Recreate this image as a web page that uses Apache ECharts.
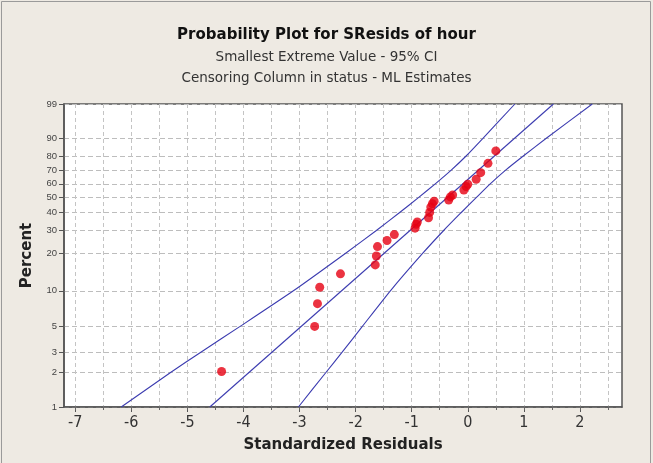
<!DOCTYPE html>
<html>
<head>
<meta charset="utf-8">
<script src="https://cdn.jsdelivr.net/npm/echarts@6/dist/echarts.min.js"></script>
<style>
html,body{margin:0;padding:0;background:#eeeae3;}
#chart{width:653px;height:463px;}
</style>
</head>
<body>
<div id="chart"></div>
<script>
// Observed standardized residuals and their plotting positions (percent)
const residuals = [-4.39,-2.73,-2.68,-2.64,-2.27,-1.65,-1.63,-1.61,-1.44,-1.31,-0.94,-0.92,-0.90,-0.70,-0.68,-0.66,-0.63,-0.60,-0.34,-0.31,-0.27,-0.07,-0.03,0.00,0.15,0.23,0.36,0.50];
const percents  = [2.04,5.0,7.8,10.7,13.8,16.3,19.2,22.7,25.3,28.0,31.2,33.3,34.5,37.0,40.2,43.6,45.8,47.5,48.4,50.5,51.9,55.5,58.0,59.7,63.4,68.3,75.0,83.2];

// Fitted line (percent, residual)
const fitPct = [1, 99];
const fitX   = [-4.60, 1.527];

// 95% confidence bands, read at each percent grid line
const ciPct   = [1, 2, 3, 5, 10, 20, 30, 40, 50, 60, 70, 80, 90, 99];
const ciUpper = [-6.18, -5.30, -4.76, -4.06, -3.11, -2.19, -1.63, -1.22, -0.88, -0.58, -0.30, -0.03, 0.27, 0.84];
const ciLower = [-3.02, -2.53, -2.24, -1.88, -1.38, -0.81, -0.43, -0.12, 0.15, 0.40, 0.67, 0.99, 1.40, 2.22];

// Axis ticks
const yTickPct  = [1, 2, 3, 5, 10, 20, 30, 40, 50, 60, 70, 80, 90, 99];
const xTicks    = [-7, -6, -5, -4, -3, -2, -1, 0, 1, 2];
const xHalfTicks = [-7, -6.5, -6, -5.5, -5, -4.5, -4, -3.5, -3, -2.5, -2, -1.5, -1, -0.5, 0, 0.5, 1, 1.5, 2, 2.5];

// smallest extreme value probability scale
function sev(p) { return Math.log(-Math.log(1 - p / 100)); }

const yTickVals = yTickPct.map(sev);
const xMin = -7.2, xMax = 2.75;

const chart = echarts.init(document.getElementById('chart'), null, {renderer: 'canvas'});

const tickFont = '"Liberation Sans Narrow","DejaVu Sans Condensed","Liberation Sans",sans-serif';

chart.setOption({
  backgroundColor: '#eeeae3',
  animation: false,
  title: [
    {text: 'Probability Plot for SResids of hour', left: 'center', top: 28, padding: 0,
     textStyle: {fontFamily: 'DejaVu Sans', fontWeight: 'bold', fontSize: 15, color: '#111'}},
    {text: 'Smallest Extreme Value - 95% CI', left: 'center', top: 50, padding: 0,
     textStyle: {fontFamily: 'DejaVu Sans', fontWeight: 'normal', fontSize: 13.5, color: '#333'}},
    {text: 'Censoring Column in status - ML Estimates', left: 'center', top: 71, padding: 0,
     textStyle: {fontFamily: 'DejaVu Sans', fontWeight: 'normal', fontSize: 13.5, color: '#333'}}
  ],
  graphic: [{
    type: 'rect', silent: true,
    shape: {x: 1.5, y: 1.5, width: 649, height: 480},
    style: {fill: 'none', stroke: '#9a9a9a', lineWidth: 1}
  }],
  grid: {left: 64, right: 31, top: 104, bottom: 56, show: true,
         backgroundColor: '#ffffff', borderColor: '#555', borderWidth: 1.5},
  xAxis: [{
    type: 'value', min: xMin, max: xMax, position: 'bottom',
    name: 'Standardized Residuals', nameLocation: 'middle', nameGap: 31,
    nameTextStyle: {fontFamily: 'DejaVu Sans', fontWeight: 'bold', fontSize: 15, color: '#222'},
    axisLine: {show: true, onZero: false, lineStyle: {color: '#555', width: 1.5}},
    axisTick: {show: true, customValues: xTicks, length: 5, lineStyle: {color: '#555'}},
    axisLabel: {customValues: xTicks, margin: 8, fontFamily: tickFont, fontSize: 16, color: '#333'},
    splitLine: {show: false}
  }, {
    type: 'value', min: xMin, max: xMax, position: 'bottom',
    axisLine: {show: false, onZero: false},
    axisTick: {show: true, customValues: xHalfTicks, length: 3, lineStyle: {color: '#666'}},
    axisLabel: {show: false},
    splitLine: {show: true, lineStyle: {color: '#c4c4c4', type: [4, 3], width: 1}}
  }],
  yAxis: {
    type: 'value', min: sev(1), max: sev(99),
    name: 'Percent', nameLocation: 'middle', nameGap: 29,
    nameTextStyle: {fontFamily: 'DejaVu Sans', fontWeight: 'bold', fontSize: 15, color: '#222'},
    axisLine: {show: true, onZero: false, lineStyle: {color: '#555', width: 1.5}},
    axisTick: {show: true, customValues: yTickVals, length: 5, lineStyle: {color: '#555'}},
    axisLabel: {
      customValues: yTickVals, margin: 7, fontFamily: '"Liberation Sans",sans-serif', fontSize: 9.5, color: '#444',
      formatter: function (v) {
        let best = 0, bd = 1e9;
        yTickVals.forEach(function (t, i) { const d = Math.abs(t - v); if (d < bd) { bd = d; best = i; } });
        return String(yTickPct[best]);
      }
    },
    splitLine: {show: true, lineStyle: {color: '#bdbdbd', type: [5, 3], width: 1}}
  },
  series: [
    {type: 'line', name: 'upper', xAxisIndex: 0, data: ciPct.map((p, i) => [ciUpper[i], sev(p)]),
     showSymbol: false, smooth: 0.2, lineStyle: {color: '#3c3cb0', width: 1.1}, z: 3},
    {type: 'line', name: 'lower', xAxisIndex: 0, data: ciPct.map((p, i) => [ciLower[i], sev(p)]),
     showSymbol: false, smooth: 0.2, lineStyle: {color: '#3c3cb0', width: 1.1}, z: 3},
    {type: 'line', name: 'fit', xAxisIndex: 0, data: fitPct.map((p, i) => [fitX[i], sev(p)]),
     showSymbol: false, lineStyle: {color: '#3c3cb0', width: 1.1}, z: 3},
    {type: 'scatter', name: 'resid', xAxisIndex: 0, data: residuals.map((x, i) => [x, sev(percents[i])]),
     symbol: 'circle', symbolSize: 9, itemStyle: {color: '#e60012'}, z: 5}
  ]
});
</script>
</body>
</html>
